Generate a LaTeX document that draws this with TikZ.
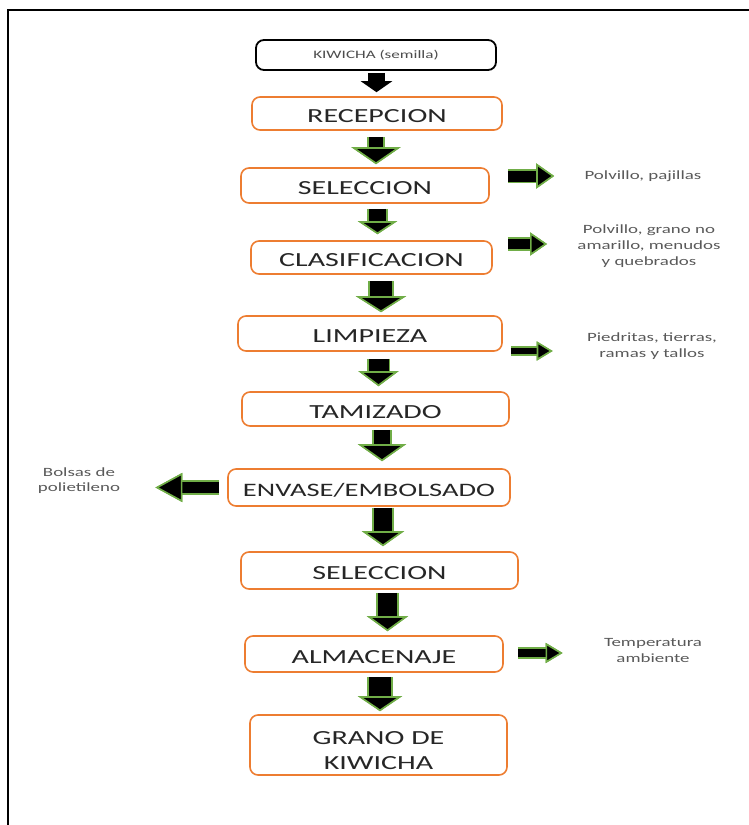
\documentclass[tikz,border=0pt]{standalone}
\usepackage{fontspec}
\setmainfont{Carlito}[FakeStretch=1.5]
\usetikzlibrary{arrows.meta,calc}
\definecolor{naranja}{RGB}{237,125,49}
\definecolor{verde}{RGB}{112,173,71}
\begin{document}
\begin{tikzpicture}[x=0.5pt, y=-0.5pt,
    caja/.style={draw=naranja, line width=0.8pt, rounded corners=4pt, text=black!85, font=\fontsize{10}{12}\selectfont, inner sep=0pt, text height=9.4pt, text depth=0pt},
    nota/.style={text=black!65, font=\fontsize{6.3}{8}\selectfont, align=center, inner sep=0pt},
    flecha/.style n args={3}{draw=black, line width=#1, -{Triangle[width=#2, length=#3, fill=black, color=verde, line width=0.8pt]},
        preaction={draw=verde, line width=#1+1.8pt, -{Triangle[width=#2, length=#3, fill=black, color=verde, line width=0.8pt]}}},
    flechanegra/.style={draw=black, line width=8.5pt, -{Triangle[width=15.5pt, length=5.5pt]}}]
  \useasboundingbox (0,0) rectangle (749,825);
  \draw[line width=1pt] (749,9.5) -- (7.5,9.5) -- (7.5,825);
  \node [draw, line width=0.9pt, rounded corners=4pt, minimum width=120pt, minimum height=15pt, inner sep=0pt, text=black!70, font=\fontsize{5.7}{7}\selectfont] (semilla) at (376,55) {KIWICHA (semilla)};
  \node [caja, minimum width=125pt, minimum height=16.5pt] (recepcion) at (377,113.5) {RECEPCION};
  \node [caja, minimum width=124pt, minimum height=17.5pt] (seleccion) at (365,185.5) {SELECCION};
  \node [caja, minimum width=120.5pt, minimum height=16.5pt] (clasificacion) at (371.5,257.5) {CLASIFICACION};
  \node [caja, minimum width=132pt, minimum height=17.5pt] (limpieza) at (370,333.5) {LIMPIEZA};
  \node [caja, minimum width=133.5pt, minimum height=17pt] (tamizado) at (375.5,409) {TAMIZADO};
  \node [caja, minimum width=141pt, minimum height=18.5pt, font=\fontsize{9.5}{12}\selectfont] (envase) at (369,487.5) {ENVASE/EMBOLSADO};
  \node [caja, minimum width=138.5pt, minimum height=18.5pt] (seleccionb) at (379.5,570.5) {SELECCION};
  \node [caja, minimum width=129pt, minimum height=18pt] (almacenaje) at (374,654) {ALMACENAJE};
  \node [caja, minimum width=128.5pt, minimum height=30pt, text height=24.9pt, font=\fontsize{10}{12.5}\selectfont] (grano) at (378.5,745) {\begin{tabular}[b]{@{}c@{}}GRANO DE\\KIWICHA\end{tabular}};
  \node [nota] (polvo) at (643,176) {Polvillo, pajillas};
  \node [nota] (descarte) at (649,246) {Polvillo, grano no\\amarillo, menudos\\y quebrados};
  \node [nota] (piedras) at (652,346) {Piedritas, tierras,\\ramas y tallos};
  \node [nota, font=\fontsize{6.3}{7.5}\selectfont] (bolsas) at (79,480.5) {Bolsas de\\polietileno};
  \node [nota] (temperatura) at (653,650.5) {Temperatura\\ambiente};
  \draw[flechanegra] let \p1=(semilla.south), \p2=(recepcion.north) in (\x1+0.25pt,\y1-1pt) -- (\x1+0.25pt,\y2+2pt);
  \draw[flecha={7pt}{24.5pt}{8.5pt}] let \p1=(recepcion.south), \p2=(seleccion.north) in (\x1-0.5pt,\y1-3pt) -- (\x1-0.5pt,\y2+1.5pt);
  \draw[flecha={8.5pt}{19.5pt}{6.5pt}] let \p1=(seleccion.south), \p2=(clasificacion.north) in (\x1+6.25pt,\y1-2.5pt) -- (\x1+6.25pt,\y2+3pt);
  \draw[flecha={11pt}{25pt}{8pt}] let \p1=(clasificacion.south), \p2=(limpieza.north) in (\x1+4.75pt,\y1-3pt) -- (\x1+4.75pt,\y2+1.5pt);
  \draw[flecha={10pt}{20pt}{7.5pt}] let \p1=(limpieza.south), \p2=(tamizado.north) in (\x1+4.25pt,\y1-3.5pt) -- (\x1+4.25pt,\y2+2.5pt);
  \draw[flecha={8pt}{24pt}{8.5pt}] let \p1=(tamizado.south), \p2=(envase.north) in (\x1+3.25pt,\y1-1.5pt) -- (\x1+3.25pt,\y2+3.5pt);
  \draw[flecha={9pt}{21pt}{7.5pt}] let \p1=(envase.south), \p2=(seleccionb.north) in (\x1+7pt,\y1-0.5pt) -- (\x1+7pt,\y2+2.5pt);
  \draw[flecha={9.5pt}{20.5pt}{7.5pt}] let \p1=(seleccionb.south), \p2=(almacenaje.north) in (\x1+4pt,\y1-1.5pt) -- (\x1+4pt,\y2+2pt);
  \draw[flecha={11pt}{22pt}{7.5pt}] let \p1=(almacenaje.south), \p2=(grano.north) in (\x1+3pt,\y1-2pt) -- (\x1+3pt,\y2+1.5pt);
  \draw[flecha={5.5pt}{12.5pt}{9pt}] let \p1=(seleccion.east), \p2=(polvo.west) in (\x1+9pt,\y2) -- (\x2-15pt,\y2);
  \draw[flecha={5pt}{11.5pt}{8.5pt}] let \p1=(clasificacion.east), \p2=(descarte.west) in (\x1+7.5pt,\y2+1pt) -- (\x2-15pt,\y2+1pt);
  \draw[flecha={3pt}{9.5pt}{8pt}] let \p1=(limpieza.east), \p2=(piedras.west) in (\x1+4pt,\y2-2.5pt) -- (\x2-17pt,\y2-2.5pt);
  \draw[flecha={5.5pt}{14.5pt}{13.5pt}] let \p1=(envase.west), \p2=(bolsas.east) in (\x1-4pt,\y1) -- (\x2+17.5pt,\y1);
  \draw[flecha={4pt}{10pt}{8.5pt}] let \p1=(almacenaje.east), \p2=(temperatura.west) in (\x1+7pt,\y1+0.5pt) -- (\x2-20.5pt,\y1+0.5pt);
\end{tikzpicture}
\end{document}
